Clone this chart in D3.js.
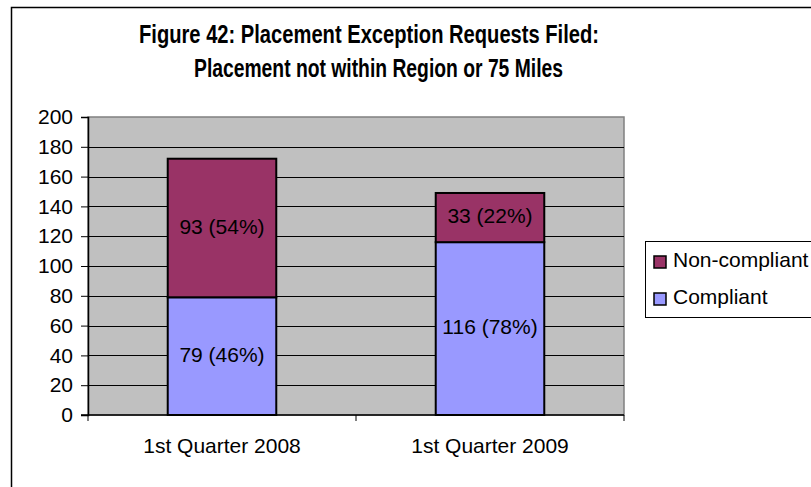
<!DOCTYPE html>
<html>
<head>
<meta charset="utf-8">
<script src="https://cdn.jsdelivr.net/npm/d3@7"></script>
<style>
  body { margin: 0; background: #fff; }
  svg { display: block; font-family: "Liberation Sans", Arial, sans-serif; }
</style>
</head>
<body>
<div id="chart"></div>
<script>
// --- data ---
const categories = ["1st Quarter 2008", "1st Quarter 2009"];
const compliant = [79, 116];
const nonCompliant = [93, 33];
const compliantPct = ["46%", "78%"];
const nonCompliantPct = ["54%", "22%"];
const yTicks = [0, 20, 40, 60, 80, 100, 120, 140, 160, 180, 200];
const seriesNames = ["Non-compliant", "Compliant"];
const titleLines = ["Figure 42: Placement Exception Requests Filed:", "Placement not within Region or 75 Miles"];

const W = 811, H = 487;
const plot = { left: 88, right: 624, top: 117, bottom: 415 };
const colors = { "Non-compliant": "#993366", "Compliant": "#9999FF" };

const svg = d3.select("#chart").append("svg")
  .attr("width", W)
  .attr("height", H);

// outer chart border (runs off the right/bottom edge)
svg.append("rect")
  .attr("x", 11.5).attr("y", 7.5)
  .attr("width", 820).attr("height", 500)
  .attr("fill", "#fff")
  .attr("stroke", "#000")
  .attr("stroke-width", 1.5);

// --- title ---
svg.append("text")
  .attr("x", 369).attr("y", 43)
  .attr("text-anchor", "middle")
  .attr("font-size", "25px")
  .attr("font-weight", "bold")
  .attr("textLength", 460)
  .attr("lengthAdjust", "spacingAndGlyphs")
  .text(titleLines[0]);
svg.append("text")
  .attr("x", 378.5).attr("y", 77)
  .attr("text-anchor", "middle")
  .attr("font-size", "25px")
  .attr("font-weight", "bold")
  .attr("textLength", 369)
  .attr("lengthAdjust", "spacingAndGlyphs")
  .text(titleLines[1]);

// --- scales ---
const x = d3.scaleBand()
  .domain(categories)
  .range([plot.left, plot.right])
  .paddingInner(0.595)
  .paddingOuter(0.2975);

const y = d3.scaleLinear()
  .domain([0, 200])
  .range([plot.bottom, plot.top]);

// plot area background
svg.append("rect")
  .attr("x", plot.left).attr("y", y(200))
  .attr("width", plot.right - plot.left)
  .attr("height", plot.bottom - y(200))
  .attr("fill", "#C0C0C0")
  .attr("stroke", "#808080")
  .attr("stroke-width", 1.5);

// gridlines
svg.append("g")
  .selectAll("line")
  .data(yTicks.filter(d => d > 0 && d < 200))
  .enter().append("line")
  .attr("x1", plot.left).attr("x2", plot.right)
  .attr("y1", d => Math.round(y(d)) + 0.5)
  .attr("y2", d => Math.round(y(d)) + 0.5)
  .attr("stroke", "#000")
  .attr("stroke-width", 1);

// y axis
const yAxis = svg.append("g")
  .attr("transform", `translate(${plot.left},0)`)
  .call(d3.axisLeft(y).tickValues(yTicks).tickSize(7).tickPadding(8));
yAxis.select(".domain").attr("stroke", "#000").attr("stroke-width", 1.5);
yAxis.selectAll(".tick line").attr("stroke", "#000");
yAxis.selectAll(".tick text")
  .attr("font-size", "21px")
  .attr("font-family", "Liberation Sans, Arial, sans-serif")
  .attr("fill", "#000");

// x axis line + boundary ticks
svg.append("line")
  .attr("x1", plot.left - 7).attr("x2", plot.right)
  .attr("y1", plot.bottom).attr("y2", plot.bottom)
  .attr("stroke", "#000").attr("stroke-width", 1.5);
const bounds = [plot.left, (x(categories[0]) + x.bandwidth() + x(categories[1])) / 2, plot.right];
svg.append("g").selectAll("line")
  .data(bounds)
  .enter().append("line")
  .attr("x1", d => d).attr("x2", d => d)
  .attr("y1", plot.bottom).attr("y2", plot.bottom + 6)
  .attr("stroke", "#000");

// category labels
svg.append("g").selectAll("text")
  .data(categories)
  .enter().append("text")
  .attr("x", d => x(d) + x.bandwidth() / 2)
  .attr("y", 453)
  .attr("text-anchor", "middle")
  .attr("font-size", "21px")
  .text(d => d);

// --- stacked bars ---
const rows = categories.map((c, i) => ({
  cat: c,
  "Compliant": compliant[i],
  "Non-compliant": nonCompliant[i],
  pc: compliantPct[i],
  pn: nonCompliantPct[i]
}));
const stack = d3.stack().keys(["Compliant", "Non-compliant"])(rows);

stack.forEach(layer => {
  const g = svg.append("g");
  g.selectAll("rect")
    .data(layer)
    .enter().append("rect")
    .attr("x", d => x(d.data.cat))
    .attr("y", d => y(d[1]))
    .attr("width", x.bandwidth())
    .attr("height", d => y(d[0]) - y(d[1]))
    .attr("fill", colors[layer.key])
    .attr("stroke", "#000")
    .attr("stroke-width", 2);

  g.selectAll("text")
    .data(layer)
    .enter().append("text")
    .attr("x", d => x(d.data.cat) + x.bandwidth() / 2)
    .attr("y", d => (y(d[0]) + y(d[1])) / 2)
    .attr("dy", "0.27em")
    .attr("text-anchor", "middle")
    .attr("font-size", "21px")
    .text(d => {
      const v = d[1] - d[0];
      const p = layer.key === "Compliant" ? d.data.pc : d.data.pn;
      return `${v} (${p})`;
    });
});

// --- legend ---
svg.append("rect")
  .attr("x", 645.5).attr("y", 241.5)
  .attr("width", 180).attr("height", 76)
  .attr("fill", "#fff")
  .attr("stroke", "#000")
  .attr("stroke-width", 1);

const leg = svg.append("g").selectAll("g")
  .data(seriesNames)
  .enter().append("g")
  .attr("transform", (d, i) => `translate(654,${256 + i * 37})`);
leg.append("rect")
  .attr("width", 12).attr("height", 12)
  .attr("fill", d => colors[d])
  .attr("stroke", "#000")
  .attr("stroke-width", 1.5);
leg.append("text")
  .attr("x", 19).attr("y", 11)
  .attr("font-size", "21px")
  .text(d => d);
</script>
</body>
</html>
